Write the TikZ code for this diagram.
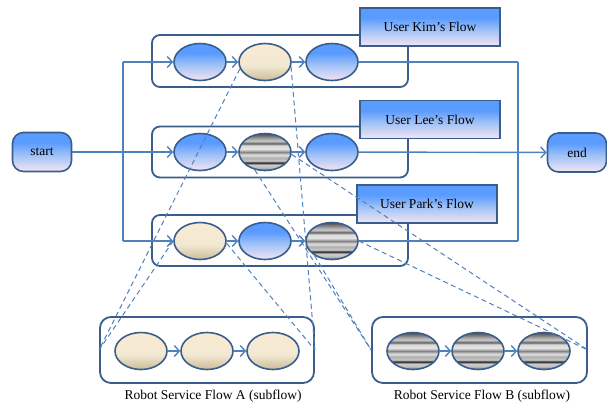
\documentclass[tikz,border=0pt]{standalone}
\usepackage{fontspec}
\setmainfont{Liberation Serif}
\usetikzlibrary{shapes.geometric,arrows.meta}
\definecolor{lineblue}{HTML}{4F81BD}
\definecolor{edgeblue}{HTML}{3A5E8C}
\definecolor{bluetop}{HTML}{5A9BFF}
\definecolor{bluemid}{HTML}{A4C4F6}
\definecolor{bluebot}{HTML}{F4E4F4}
\definecolor{creamtop}{HTML}{FAEBD2}
\definecolor{creammid}{HTML}{F2E8D2}
\definecolor{creambot}{HTML}{CBBC98}
\pgfdeclareverticalshading{bluegrad}{100bp}{color(0bp)=(bluebot); color(25bp)=(bluebot); color(45bp)=(bluemid); color(62bp)=(bluetop); color(100bp)=(bluetop)}
\pgfdeclareverticalshading{creamgrad}{100bp}{color(0bp)=(creambot); color(25bp)=(creambot); color(45bp)=(creammid); color(75bp)=(creamtop); color(100bp)=(creamtop)}
\pgfdeclareverticalshading{stripegrad}{100bp}{color(0bp)=(black!60); color(25bp)=(black!60); color(29bp)=(black!25); color(33bp)=(black!20); color(35.5bp)=(black!90); color(38bp)=(black!20); color(42bp)=(black!32); color(46bp)=(black!12); color(50bp)=(black!48); color(54bp)=(black!10); color(59bp)=(black!15); color(61.5bp)=(black!62); color(65bp)=(black!20); color(70bp)=(black!45); color(75bp)=(black!72); color(100bp)=(black!72)}
\tikzset{
  svc/.style={ellipse, draw=edgeblue, line width=1.6pt, minimum width=52pt, minimum height=37pt, inner sep=0pt, shade},
  bluesvc/.style={svc, shading=bluegrad},
  creamsvc/.style={svc, shading=creamgrad},
  stripesvc/.style={svc, shading=stripegrad},
  flowbox/.style={draw=edgeblue, line width=1.8pt, rounded corners=8pt, inner sep=0pt},
  subbox/.style={draw=edgeblue, line width=1.8pt, rounded corners=11pt, inner sep=0pt},
  tagbox/.style={rectangle, draw=edgeblue, line width=1.8pt, shade, shading=bluegrad, minimum width=140pt, minimum height=38pt, inner sep=0pt, font=\fontsize{13.5}{15}\selectfont},
  term/.style={rectangle, rounded corners=11pt, draw=edgeblue, line width=1.6pt, shade, shading=bluegrad, minimum width=59pt, minimum height=39pt, inner sep=0pt, font=\fontsize{13.5}{15}\selectfont},
  conn/.style={draw=lineblue, line width=1.4pt},
  arr/.style={conn, -{Straight Barb[length=5pt,width=11pt]}},
  dline/.style={draw=lineblue, line width=1pt, dash pattern=on 5pt off 3.5pt},
  caption/.style={font=\fontsize{13.5}{15}\selectfont}
}
\begin{document}
\begin{tikzpicture}[x=1pt,y=-1pt]
\useasboundingbox (0,0) rectangle (607,405);
% containers
\node[flowbox, minimum width=256pt, minimum height=52pt] (kimbox) at (280,61) {};
\node[flowbox, minimum width=256pt, minimum height=51pt] (leebox) at (280,152) {};
\node[flowbox, minimum width=256pt, minimum height=51pt] (parkbox) at (280,240.5) {};
\node[subbox, minimum width=214pt, minimum height=66pt] (subA) at (207,350) {};
\node[subbox, minimum width=215pt, minimum height=66pt] (subB) at (479.5,350) {};
% terminals
\node[term] (start) at (42,152) {start};
\node[term] (end) at (577,152.5) {end};
% services
\node[bluesvc] (kim1) at (200,62) {};
\node[creamsvc] (kim2) at (265,62) {};
\node[bluesvc] (kim3) at (332,62) {};
\node[bluesvc] (lee1) at (200,152) {};
\node[stripesvc] (lee2) at (265,152) {};
\node[bluesvc] (lee3) at (332,152) {};
\node[creamsvc] (park1) at (200,241) {};
\node[bluesvc] (park2) at (265,241) {};
\node[stripesvc] (park3) at (332,241) {};
\node[creamsvc] (a1) at (141,351) {};
\node[creamsvc] (a2) at (207,351) {};
\node[creamsvc] (a3) at (273,351) {};
\node[stripesvc] (b1) at (413,351) {};
\node[stripesvc] (b2) at (478,351) {};
\node[stripesvc] (b3) at (544,351) {};
% junction points
\coordinate (lt) at (123,62);
\coordinate (lb) at (123,241);
\coordinate (rt) at (518,62);
\coordinate (rb) at (518,241);
% solid connectors
\draw[conn] (lt) -- (lb);
\draw[conn] (rt) -- (rb);
\draw[arr] (lt) -- (kim1);
\draw[arr] (lb) -- (park1);
\draw[conn] (kim3) -- (rt);
\draw[conn] (park3) -- (rb);
\draw[arr] (start) -- (lee1);
\draw[arr] (lee3) -- (end);
\draw[arr] (kim1) -- (kim2);
\draw[arr] (kim2) -- (kim3);
\draw[arr] (lee1) -- (lee2);
\draw[arr] (lee2) -- (lee3);
\draw[arr] (park1) -- (park2);
\draw[arr] (park2) -- (park3);
\draw[arr] (a1) -- (a2);
\draw[arr] (a2) -- (a3);
\draw[arr] (b1) -- (b2);
\draw[arr] (b2) -- (b3);
% labels
\node[tagbox] (kimtag) at (430,27) {User Kim’s Flow};
\node[tagbox] (leetag) at (430,119.5) {User Lee’s Flow};
\node[tagbox] (parktag) at (427,204) {User Park’s Flow};
\node[caption] (capA) at (213,396) {Robot Service Flow A (subflow)};
\node[caption] (capB) at (482,396) {Robot Service Flow B (subflow)};
% dashed mappings
\draw[dline] (kim2.195) -- (subA.west);
\draw[dline] (kim2.-10) -- (subA.east);
\draw[dline] (park1.west) -- (subA.west);
\draw[dline] (park1.-5) -- (subA.east);
\draw[dline] (lee2.240) -- (subB.west);
\draw[dline] (lee2.-5) -- (subB.east);
\draw[dline] (park3.220) -- (subB.west);
\draw[dline] (park3.east) -- (subB.east);
\end{tikzpicture}
\end{document}
